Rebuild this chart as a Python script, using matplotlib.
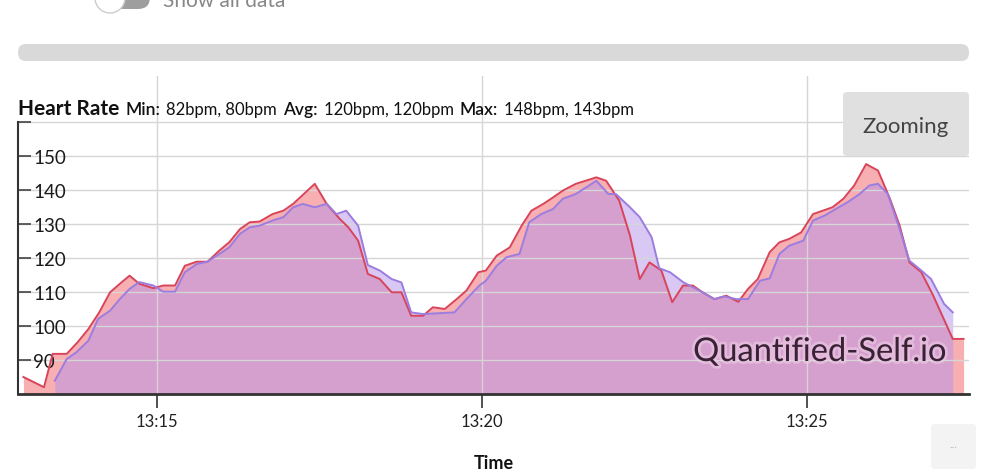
import matplotlib
matplotlib.use("Agg")
import matplotlib.pyplot as plt
import matplotlib.dates as mdates
import matplotlib.patheffects as pe
import pandas as pd
from matplotlib.patches import FancyBboxPatch, Circle
from matplotlib.transforms import IdentityTransform

OUTPUT_PATH = "out.png"
W, H = 998, 477

plt.rcParams["font.family"] = ["Lato", "DejaVu Sans"]

# ---------- data ----------
red_times = [
    "13:12:57", "13:13:16", "13:13:24", "13:13:37", "13:13:47", "13:13:57",
    "13:14:07", "13:14:17", "13:14:26", "13:14:35", "13:14:44", "13:14:57",
    "13:15:06", "13:15:17", "13:15:26", "13:15:37", "13:15:47", "13:15:58",
    "13:16:07", "13:16:17", "13:16:26", "13:16:35", "13:16:47", "13:16:57",
    "13:17:06", "13:17:26", "13:17:37", "13:17:49", "13:17:57", "13:18:06",
    "13:18:15", "13:18:26", "13:18:37", "13:18:46", "13:18:55", "13:19:06",
    "13:19:15", "13:19:26", "13:19:37", "13:19:46", "13:19:57", "13:20:04",
    "13:20:14", "13:20:26", "13:20:37", "13:20:46", "13:20:57", "13:21:06",
    "13:21:15", "13:21:27", "13:21:46", "13:21:55", "13:22:01", "13:22:07",
    "13:22:17", "13:22:26", "13:22:35", "13:22:46", "13:22:56", "13:23:06",
    "13:23:15", "13:23:24", "13:23:35", "13:23:46", "13:23:57", "13:24:06",
    "13:24:15", "13:24:26", "13:24:35", "13:24:44", "13:24:55", "13:25:06",
    "13:25:15", "13:25:24", "13:25:34", "13:25:44", "13:25:55", "13:26:06",
    "13:26:17", "13:26:26", "13:26:35", "13:26:46", "13:26:57", "13:27:15",
    "13:27:25",
]
red_bpm = [
    85, 82, 91.8, 91.8, 95.2, 99.1,
    104.0, 109.9, 112.4, 114.8, 112.4, 111.1,
    111.9, 111.9, 117.7, 118.9, 118.9, 122.2,
    124.6, 128.5, 130.5, 130.7, 132.9, 133.9,
    135.9, 141.8, 135.9, 131.5, 129.0, 125.1,
    115.3, 113.8, 109.9, 109.9, 103.0, 103.0,
    105.5, 105.0, 107.9, 110.4, 115.8, 116.3,
    120.7, 123.1, 129.5, 133.9, 135.9, 137.8,
    139.8, 141.8, 143.7, 142.7, 139.8, 136.9,
    126.6, 113.8, 118.7, 116.3, 107.0, 111.9,
    111.9, 109.9, 107.9, 108.9, 107.1, 110.9,
    113.8, 121.7, 124.6, 125.6, 127.5, 132.9,
    133.9, 134.9, 137.4, 141.3, 147.6, 145.7,
    137.4, 129.5, 118.7, 115.8, 108.9, 96.2,
    96.2,
]

purple_times = [
    "13:13:26", "13:13:37", "13:13:46", "13:13:57", "13:14:06", "13:14:17",
    "13:14:26", "13:14:35", "13:14:44", "13:14:57", "13:15:06", "13:15:17",
    "13:15:26", "13:15:37", "13:15:47", "13:15:58", "13:16:07", "13:16:17",
    "13:16:26", "13:16:35", "13:16:47", "13:16:57", "13:17:06", "13:17:15",
    "13:17:26", "13:17:37", "13:17:46", "13:17:55", "13:18:06", "13:18:15",
    "13:18:26", "13:18:37", "13:18:46", "13:18:55", "13:19:06", "13:19:35",
    "13:19:46", "13:19:58", "13:20:04", "13:20:14", "13:20:23", "13:20:35",
    "13:20:44", "13:20:55", "13:21:06", "13:21:15", "13:21:27", "13:21:46",
    "13:21:57", "13:22:04", "13:22:17", "13:22:26", "13:22:37", "13:22:44",
    "13:22:54", "13:23:06", "13:23:15", "13:23:24", "13:23:35", "13:23:44",
    "13:23:55", "13:24:06", "13:24:17", "13:24:26", "13:24:35", "13:24:44",
    "13:24:57", "13:25:06", "13:25:17", "13:25:27", "13:25:38", "13:25:49",
    "13:25:58", "13:26:06", "13:26:15", "13:26:26", "13:26:35", "13:26:46",
    "13:26:55", "13:27:07", "13:27:15",
]
purple_bpm = [
    83.9, 90.3, 92.3, 95.7, 102.1, 104.5,
    107.9, 110.9, 112.9, 111.9, 110.1, 110.1,
    115.8, 118.2, 118.9, 121.2, 123.1, 127.1,
    129.0, 129.5, 131.0, 132.0, 134.9, 135.9,
    134.9, 135.9, 132.9, 133.9, 129.5, 117.9,
    116.3, 113.8, 112.8, 104.0, 103.5, 104.0,
    107.9, 111.9, 113.3, 117.7, 120.2, 121.2,
    130.5, 132.9, 134.4, 137.4, 138.8, 142.7,
    138.8, 138.8, 134.9, 132.0, 126.1, 117.0,
    115.8, 112.9, 111.4, 109.9, 107.9, 108.7,
    107.9, 107.9, 113.3, 114.0, 121.2, 123.6,
    125.1, 131.0, 132.5, 134.4, 136.4, 138.8,
    141.3, 141.8, 138.8, 128.5, 119.2, 116.3,
    113.8, 106.5, 104.0,
]

y_ticks = [90, 100, 110, 120, 130, 140, 150, 160]
y_labels = ["90", "100", "110", "120", "130", "140", "150", ""]
x_start, x_end = "13:12:52", "13:27:30"

title_parts = [
    ("Heart Rate", 15, "bold"),
    ("Min:", 12.5, "semibold"),
    ("82bpm, 80bpm", 12, "normal"),
    ("Avg:", 12.5, "semibold"),
    ("120bpm, 120bpm", 12, "normal"),
    ("Max:", 12.5, "semibold"),
    ("148bpm, 143bpm", 12, "normal"),
]

RED_FILL = "#f16165"
RED_LINE = "#d8445a"
PURPLE_FILL = "#b591eb"
PURPLE_LINE = "#9b7de0"

px = IdentityTransform()


def rbox(x0, y0, x1, y1, r, color, z=5):
    # rounded box in screenshot pixel coords (origin top-left)
    p = FancyBboxPatch((x0 + r, H - y1 + r), (x1 - x0) - 2 * r, (y1 - y0) - 2 * r,
                       boxstyle=f"round,pad={r}", transform=px,
                       facecolor=color, edgecolor="none", zorder=z)
    fig.add_artist(p)


# ---------- plot ----------
fig = plt.figure(figsize=(W / 100, H / 100), dpi=100)
ax = fig.add_axes([18 / W, 1 - 395 / H, (969 - 18) / W, (395 - 77) / H])

rt = pd.to_datetime(red_times, format="%H:%M:%S")
pt = pd.to_datetime(purple_times, format="%H:%M:%S")

ax.fill_between(rt, red_bpm, 80, color=RED_FILL, alpha=0.5, lw=0, zorder=1)
ax.fill_between(pt, purple_bpm, 80, color=PURPLE_FILL, alpha=0.5, lw=0, zorder=1.1)
ax.plot(rt, red_bpm, color=RED_LINE, lw=1.4, zorder=3)
ax.plot(pt, purple_bpm, color=PURPLE_LINE, lw=1.4, zorder=3)

ax.set_xlim(pd.to_datetime(x_start, format="%H:%M:%S"),
            pd.to_datetime(x_end, format="%H:%M:%S"))
ax.set_ylim(80, 173.5)

ax.xaxis.set_major_locator(mdates.MinuteLocator(byminute=[15, 20, 25]))
ax.xaxis.set_major_formatter(mdates.DateFormatter("%H:%M"))
ax.set_yticks(y_ticks)
ax.set_yticklabels(y_labels)

ax.grid(True, color="#d6d6d6", lw=1)
for s in ["top", "right"]:
    ax.spines[s].set_visible(False)
ax.spines["bottom"].set_color("#333333")
ax.spines["bottom"].set_linewidth(2)
ax.spines["left"].set_color("#333333")
ax.spines["left"].set_linewidth(1.5)
ax.spines["left"].set_bounds(80, 160)

ax.tick_params(axis="x", direction="out", length=10, width=1.2, color="#333333",
               labelsize=12, labelcolor="#222222", pad=4)
ax.tick_params(axis="y", direction="in", length=9, width=1.2, color="#444444",
               labelsize=13.5, labelcolor="#1a1a1a", pad=-11)
for lab in ax.get_yticklabels():
    lab.set_horizontalalignment("left")

fig.text(494, H - 464, "Time", transform=px, fontsize=13, fontweight="bold",
         ha="center", va="center", color="#111111")

# title line built piece by piece
renderer = fig.canvas.get_renderer()
x = 18
for text, size, weight in title_parts:
    t = fig.text(x, H - 115, text, transform=px, fontsize=size, fontweight=weight,
                 va="baseline", ha="left", color="#111111")
    x = t.get_window_extent(renderer).x1 + 6

# watermark
fig.text(946, H - 362, "Quantified-Self.io", transform=px, fontsize=23.5,
         color="#3a2236", ha="right", va="baseline", zorder=6,
         path_effects=[pe.withStroke(linewidth=4, foreground="#f3d6ea", alpha=0.5)])

# page widgets around the chart
rbox(843, 93, 969, 157, 4, "#e0e0e0")
fig.text(906, H - 133, "Zooming", transform=px, fontsize=16, color="#444444",
         ha="center", va="baseline", zorder=6)
rbox(931, 425, 976, 470, 4, "#f3f3f3")
fig.text(953, H - 445, "...", transform=px, fontsize=8, color="#bbbbbb",
         ha="center", va="center", zorder=6)
rbox(18, 45, 969, 62, 8, "#d9d9d9")
rbox(100, -14, 150, 10, 12, "#9e9e9e")
fig.add_artist(Circle((110, H + 1), 15, transform=px, facecolor="white",
                      edgecolor="#cccccc", lw=1, zorder=6))
fig.text(163, H - 7, "Show all data", transform=px, fontsize=15, color="#888888",
         ha="left", va="baseline")

fig.savefig(OUTPUT_PATH, dpi=100)
plt.close(fig)
print("Saved:", OUTPUT_PATH)
